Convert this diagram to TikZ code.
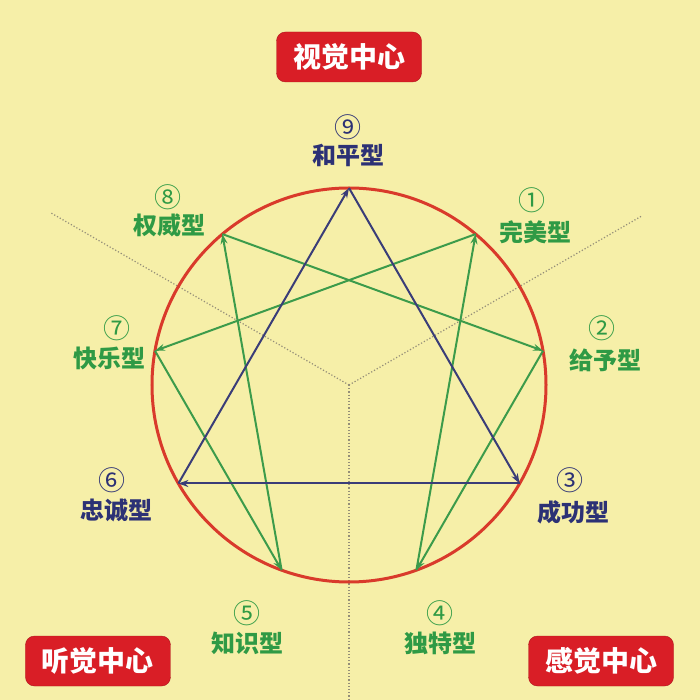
\documentclass[tikz,border=0pt]{standalone}
\usepackage{fontspec}
\newfontfamily\cjk{Noto Sans CJK SC}
\usetikzlibrary{arrows.meta}
\definecolor{bgyellow}{HTML}{F6EFA8}
\definecolor{ringred}{HTML}{D93A2B}
\definecolor{boxred}{HTML}{D91E26}
\definecolor{typegreen}{HTML}{2F9A45}
\definecolor{typenavy}{HTML}{2C3175}
\definecolor{linegreen}{HTML}{3C9B4B}
\definecolor{linenavy}{HTML}{3A3D78}
\definecolor{dotgrey}{HTML}{948E78}

\tikzset{
  centerbox/.style={fill=boxred, draw=boxred!80!black, rounded corners=9pt,
    minimum width=145pt, minimum height=50pt, text=white,
    font=\cjk\bfseries\fontsize{28}{28}\selectfont},
  typename/.style={font=\cjk\bfseries\fontsize{24}{24}\selectfont},
  typenum/.style={font=\cjk\fontsize{27}{27}\selectfont},
  greenline/.style={draw=linegreen, line width=2pt, -{Stealth[length=10pt,width=7pt]}},
  navyline/.style={draw=linenavy, line width=2pt, -{Stealth[length=10pt,width=7pt]}},
  divider/.style={draw=dotgrey, line width=1.2pt, dotted}
}

\begin{document}
\begin{tikzpicture}[x=1pt, y=1pt]

	% background
	\fill[bgyellow] (-349,-315) rectangle (351,385);
	\useasboundingbox (-349,-315) rectangle (351,385);

	% centre dividers
	\coordinate (O) at (0,0);
	\coordinate (DivL) at (150:344);
	\coordinate (DivR) at (30:338);
	\coordinate (DivD) at (0,-315);
	\draw[divider] (O) -- (DivL);
	\draw[divider] (O) -- (DivR);
	\draw[divider] (O) -- (DivD);

	% points on the ring
	\foreach \n/\a in {9/90, 1/50, 2/10, 3/-30, 4/-70, 5/-110, 6/-150, 7/170, 8/130}
		\coordinate (p\n) at (\a:197);

	\draw[ringred, line width=3pt] (O) circle (197);

	% hexad
	\draw[greenline] (p1) -- (p7);
	\draw[greenline] (p7) -- (p5);
	\draw[greenline] (p5) -- (p8);
	\draw[greenline] (p8) -- (p2);
	\draw[greenline] (p2) -- (p4);
	\draw[greenline] (p4) -- (p1);

	% triangle
	\draw[navyline] (p9) -- (p3);
	\draw[navyline] (p3) -- (p6);
	\draw[navyline] (p6) -- (p9);

	% type labels
	\node[typenum, text=typenavy] (Num9) at (-1,258) {⑨};
	\node[typename, text=typenavy] (Peace) at (-1,230) {和平型};
	\node[typenum, text=typegreen] (Num1) at (183,185) {①};
	\node[typename, text=typegreen] (Perfect) at (186,153) {完美型};
	\node[typenum, text=typegreen] (Num2) at (253,57) {②};
	\node[typename, text=typegreen] (Giver) at (256,25) {给予型};
	\node[typenum, text=typenavy] (Num3) at (221,-95) {③};
	\node[typename, text=typenavy] (Achiever) at (224,-127) {成功型};
	\node[typenum, text=typegreen] (Num4) at (91,-228) {④};
	\node[typename, text=typegreen] (Unique) at (91,-258) {独特型};
	\node[typenum, text=typegreen] (Num5) at (-102,-228) {⑤};
	\node[typename, text=typegreen] (Thinker) at (-101,-258) {知识型};
	\node[typenum, text=typenavy] (Num6) at (-237,-95) {⑥};
	\node[typename, text=typenavy] (Loyal) at (-232,-125) {忠诚型};
	\node[typenum, text=typegreen] (Num7) at (-232,57) {⑦};
	\node[typename, text=typegreen] (Joy) at (-239,27) {快乐型};
	\node[typenum, text=typegreen] (Num8) at (-181,188) {⑧};
	\node[typename, text=typegreen] (Power) at (-179,160) {权威型};

	% centre boxes
	\node[centerbox] (Vision) at (0,328) {视觉中心};
	\node[centerbox] (Hearing) at (-251,-276) {听觉中心};
	\node[centerbox] (Feeling) at (252,-276) {感觉中心};

\end{tikzpicture}
\end{document}
